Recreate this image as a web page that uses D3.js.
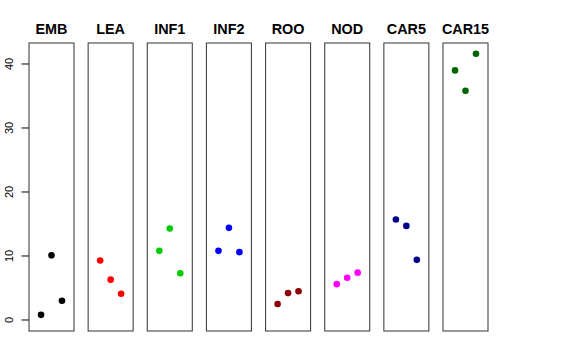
<!DOCTYPE html>
<html><head><meta charset="utf-8">
<script src="https://cdn.jsdelivr.net/npm/d3@7"></script>
<style>body{margin:0;background:#fff}svg{display:block}</style>
</head><body>
<script>
const categories = ["EMB","LEA","INF1","INF2","ROO","NOD","CAR5","CAR15"];
const colors = ["#000000","#FF0000","#00CD00","#0000FF","#8B0000","#FF00FF","#00008B","#006400"];
const series = [
  [0.8, 10.1, 3.0],
  [9.3, 6.3, 4.1],
  [10.8, 14.3, 7.3],
  [10.8, 14.4, 10.6],
  [2.5, 4.2, 4.5],
  [5.6, 6.6, 7.4],
  [15.7, 14.7, 9.4],
  [39.0, 35.8, 41.6]
];
const yTicks = [0, 10, 20, 30, 40];

(function () {
const W = 576, H = 360;
const svg = d3.select("body").append("svg").attr("width", W).attr("height", H);
const pTop = 43, pBottom = 331;
const y = d3.scaleLinear().domain([-1.72, 43.28]).range([pBottom, pTop]);
const panelX = d3.scaleBand().domain(categories).range([29, 488]).paddingInner(0.239).paddingOuter(0);
const font = "'Liberation Sans', Arial, Helvetica, sans-serif";

categories.forEach((c, i) => {
  const x0 = panelX(c), bw = panelX.bandwidth();
  const x = d3.scaleLinear().domain([-0.15, 4.15]).range([x0, x0 + bw]);
  const g = svg.append("g");
  g.append("rect").attr("x", x0).attr("y", pTop).attr("width", bw).attr("height", pBottom - pTop)
    .attr("fill", "none").attr("stroke", "#444").attr("stroke-width", 1.1);
  g.selectAll("circle").data(series[i]).join("circle")
    .attr("cx", (d, j) => x(j + 1)).attr("cy", d => y(d)).attr("r", 3.3)
    .attr("fill", colors[i]);
  g.append("text").attr("x", x0 + bw / 2).attr("y", 34).attr("text-anchor", "middle")
    .attr("font-family", font).attr("font-weight", "bold").attr("font-size", 14.4).text(c);
});

const axis = d3.axisLeft(y).tickValues(yTicks).tickSize(7.5).tickPadding(4).tickFormat(d3.format("d"));
const ag = svg.append("g").attr("transform", "translate(29,0)").call(axis);
ag.select(".domain").remove();
ag.selectAll(".tick").attr("transform", null);
ag.selectAll(".tick line").attr("stroke", "#000").attr("y1", d => y(d)).attr("y2", d => y(d));
ag.selectAll(".tick text").attr("font-family", font).attr("font-size", 11).attr("fill", "#000")
  .attr("text-anchor", "middle").attr("dy", null).attr("x", 0).attr("y", 0)
  .attr("transform", d => `translate(-16,${y(d)}) rotate(-90)`);
})();
</script>
</body></html>
